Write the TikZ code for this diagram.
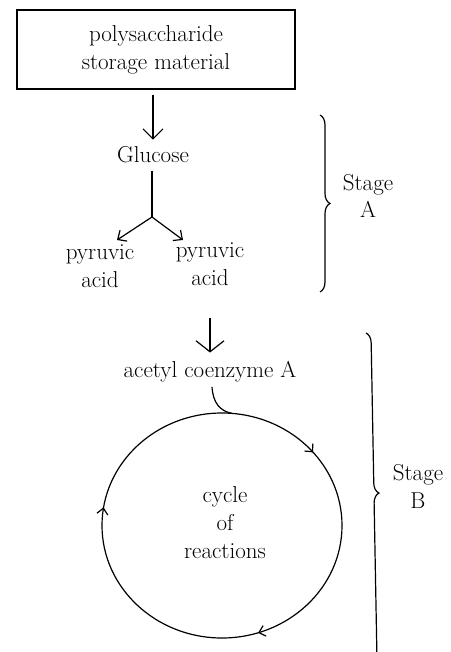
\documentclass[tikz,border=0pt]{standalone}
\usetikzlibrary{arrows.meta,decorations.pathreplacing,decorations.markings}
\begin{document}
\begin{tikzpicture}[x=1pt,y=-1pt,
  every node/.style={font=\fontsize{23}{28}\selectfont, inner sep=3pt},
  ln/.style={line width=1.2pt, black},
  bigarr/.style={ln, -{Straight Barb[length=10pt,width=20pt,line width=1.2pt]}},
  smallarr/.style={ln, -{Straight Barb[length=7pt,width=13pt,line width=1.2pt]}},
  stagebrace/.style={ln, decorate, decoration={brace, amplitude=10pt}},
  cyclearr/.style={ln, postaction={decorate}, decoration={markings,
     mark=at position 0.2 with {\arrow{Straight Barb[length=6pt,width=11pt,line width=1.2pt]}},
     mark=at position 0.525 with {\arrow{Straight Barb[length=6pt,width=11pt,line width=1.2pt]}},
     mark=at position 0.89 with {\arrow{Straight Barb[length=6pt,width=11pt,line width=1.2pt]}}}}
]
\useasboundingbox (0,0) rectangle (450,652);

\node[draw, ln, minimum width=278pt, minimum height=79pt, align=center] (poly) at (156,49.5)
  {polysaccharide\\storage material};
\node[anchor=base] (glu) at (153,163) {Glucose};
\node[anchor=base, align=center] (pl) at (100,287) {pyruvic\\acid};
\node[anchor=base, align=center] (pr) at (210,285) {pyruvic\\acid};
\node[anchor=base, align=center] (sa) at (368,218) {Stage\\A};
\node[anchor=base] (acetyl) at (210,377) {acetyl coenzyme A};
\node[anchor=base, align=center] (cyc) at (225,558) {cycle\\of\\reactions};
\node[anchor=base, align=center] (sb) at (418,508) {Stage\\B};

\coordinate (fork) at (152,217);
\coordinate (tl) at (117,240);
\coordinate (tr) at (183,240);
\coordinate (a2) at (210,318);
\coordinate (join) at (232,413.4);

\draw[bigarr, shorten <=5pt, shorten >=4pt] (glu.north |- poly.south) -- (glu.north);
\draw[ln] (glu.south -| fork) ++(0,4) -- (fork);
\draw[smallarr] (fork) -- (tl);
\draw[smallarr] (fork) -- (tr);
\draw[ln, -{Straight Barb[length=11pt,width=28pt,line width=1.2pt]}, shorten >=5pt] (a2) -- (acetyl.north);
\draw[ln] (acetyl.south) ++(2,2) .. controls (213,403) and (220,411) .. (join);

\draw[cyclearr] (222,525.5) ellipse [x radius=120, y radius=112.5];

\draw[stagebrace] (320,115) -- (320,292);
\draw[stagebrace, decoration={aspect=0.49}] (366,333) -- (372,660);
\end{tikzpicture}
\end{document}
